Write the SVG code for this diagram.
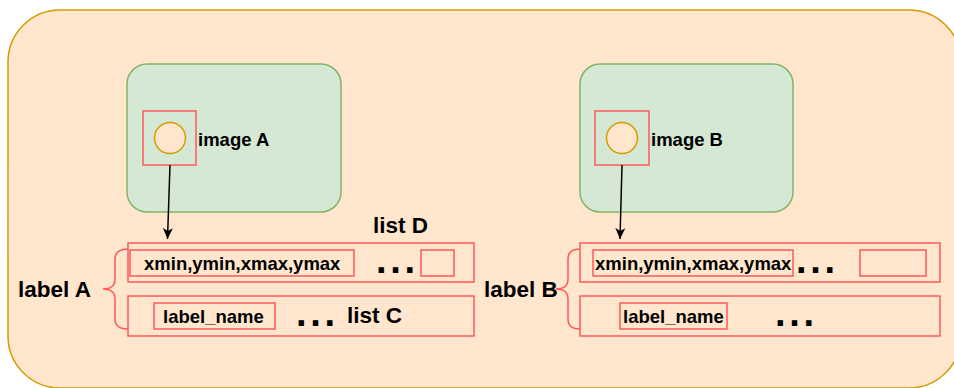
<svg xmlns="http://www.w3.org/2000/svg" width="954" height="388" viewBox="0 0 954 388">
  <style>
    .red { fill: none; stroke: #ff5a5a; stroke-width: 1.5; }
    .img { fill: #d5e8d4; stroke: #82b366; stroke-width: 1.5; }
    .dot { fill: #ffe6cc; stroke: #d79b00; stroke-width: 1.5; }
    .t { font-family: "Liberation Sans", Arial, sans-serif; font-weight: bold; fill: #000; }
    .s18 { font-size: 18.5px; }
    .s22 { font-size: 22.5px; }
    .dots { font-size: 38px; letter-spacing: 3.7px; }
    .edge { fill: none; stroke: #000; stroke-width: 1.5; }
  </style>
  <defs>
    <marker id="arrowhead" viewBox="0 0 12 12" refX="11" refY="6" markerWidth="12" markerHeight="12" orient="auto" markerUnits="userSpaceOnUse">
      <path d="M0,1 L11,6 L0,11 L3,6 Z" fill="#000"/>
    </marker>
  </defs>

  <!-- background container -->
  <g id="container">
    <rect x="8" y="10" width="953" height="378" rx="52" ry="52" fill="#ffe6cc" stroke="#d79b00" stroke-width="1.5"/>
  </g>

  <!-- image A -->
  <g id="imageA">
    <rect class="img" x="127" y="64" width="214" height="148" rx="20" ry="20"/>
    <rect class="red" x="143" y="111" width="53" height="54"/>
    <circle class="dot" cx="170" cy="138" r="15.5"/>
    <text class="t s18" x="198" y="146">image A</text>
  </g>

  <!-- image B -->
  <g id="imageB">
    <rect class="img" x="580" y="64" width="213" height="148" rx="20" ry="20"/>
    <rect class="red" x="595" y="111" width="54" height="54"/>
    <circle class="dot" cx="622" cy="138" r="15.5"/>
    <text class="t s18" x="651" y="146">image B</text>
  </g>

  <!-- label A lists -->
  <g id="labelA">
    <text class="t s22" x="18" y="297">label A</text>
    <path class="red" d="M128,249 Q115,249 115,259 L115,279 Q115,289 103,289 Q115,289 115,299 L115,319 Q115,329 128,329"/>
    <rect class="red" x="128" y="243" width="346" height="39"/>
    <rect class="red" x="130" y="250" width="224" height="26"/>
    <text class="t s18" x="144" y="270">xmin,ymin,xmax,ymax</text>
    <text class="t dots" x="376" y="273">...</text>
    <rect class="red" x="421" y="250" width="33" height="26"/>
    <text class="t s22" x="373" y="233">list D</text>
    <rect class="red" x="128" y="296" width="346" height="40"/>
    <rect class="red" x="154" y="303" width="121" height="26"/>
    <text class="t s18" x="163" y="323">label_name</text>
    <text class="t dots" x="296" y="326">...</text>
    <text class="t s22" x="347" y="323">list C</text>
  </g>

  <!-- label B lists -->
  <g id="labelB">
    <text class="t s22" x="484" y="297">label B</text>
    <path class="red" d="M580,249 Q568,249 568,259 L568,279 Q568,289 556,289 Q568,289 568,299 L568,319 Q568,329 580,329"/>
    <rect class="red" x="580" y="243" width="360" height="39"/>
    <rect class="red" x="593" y="250" width="200" height="26"/>
    <text class="t s18" x="595" y="270">xmin,ymin,xmax,ymax</text>
    <text class="t dots" x="796" y="273">...</text>
    <rect class="red" x="860" y="250" width="66" height="26"/>
    <rect class="red" x="580" y="296" width="360" height="40"/>
    <rect class="red" x="620" y="303" width="107" height="26"/>
    <text class="t s18" x="623" y="323">label_name</text>
    <text class="t dots" x="775" y="326">...</text>
  </g>

  <!-- connectors -->
  <g id="connectors">
    <path class="edge" d="M170,165 L167.5,239" marker-end="url(#arrowhead)"/>
    <path class="edge" d="M622,165 L620,239" marker-end="url(#arrowhead)"/>
  </g>
</svg>
